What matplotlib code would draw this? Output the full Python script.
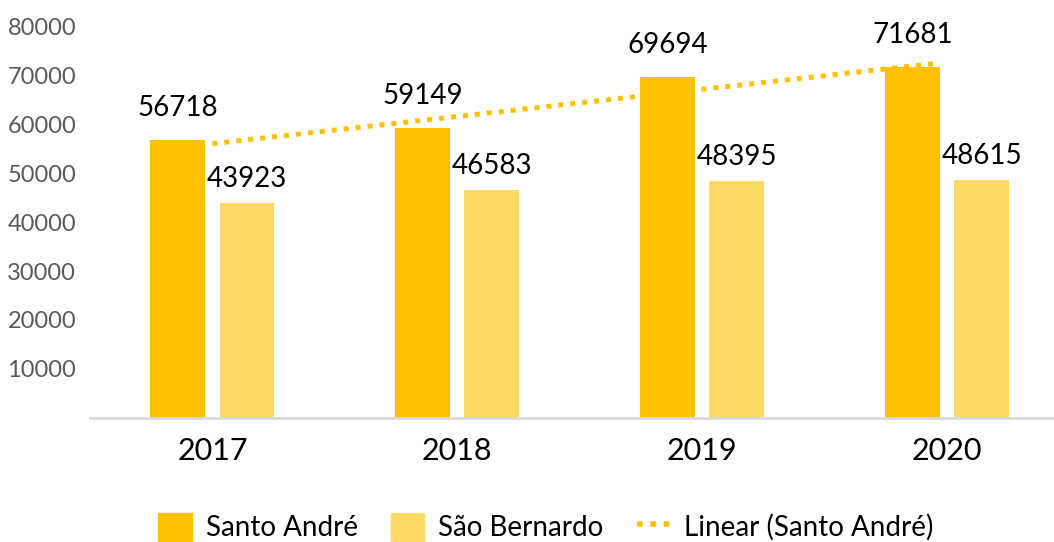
import numpy as np
import matplotlib.pyplot as plt
from matplotlib.patches import Patch
from matplotlib.lines import Line2D

anos = ["2017", "2018", "2019", "2020"]
santo_andre = [56718, 59149, 69694, 71681]
sao_bernardo = [43923, 46583, 48395, 48615]

cor_sa = "#FFC000"
cor_sb = "#FFD966"

plt.rcParams['font.family'] = ['Lato', 'DejaVu Sans']

fig = plt.figure(figsize=(10.54, 5.42), dpi=100)
ax = fig.add_axes([0.0854, 0.2288, 0.9146, 0.7232])

x = np.arange(len(anos))
largura = 0.224
desloc = 0.141

ax.bar(x - desloc, santo_andre, width=largura, color=cor_sa)
ax.bar(x + desloc, sao_bernardo, width=largura, color=cor_sb)

# rotulos de dados
for xi, v in zip(x - desloc, santo_andre):
    ax.annotate(str(v), (xi, v), xytext=(0, 23), textcoords='offset points',
                ha='center', va='center', fontsize=20, color='black')
for xi, v in zip(x + desloc, sao_bernardo):
    ax.annotate(str(v), (xi, v), xytext=(0, 17), textcoords='offset points',
                ha='center', va='center', fontsize=20, color='black')

# linha de tendencia linear (Santo André)
coef = np.polyfit(x + 1, santo_andre, 1)
xt = np.linspace(0, 2.97, 50)
ax.plot(xt, np.polyval(coef, xt + 1), color=cor_sa, linewidth=3.6,
        linestyle=(0, (1, 1.4)), zorder=3)

ax.set_xlim(-0.5, 3.437)
ax.set_ylim(0, 80000)
ax.set_yticks(np.arange(10000, 80001, 10000))
ax.tick_params(axis='y', length=0, labelsize=17, labelcolor='#595959', pad=10)
ax.set_xticks(x)
ax.set_xticklabels(anos)
ax.tick_params(axis='x', length=0, labelsize=22, pad=14)

for s in ['top', 'right', 'left']:
    ax.spines[s].set_visible(False)
ax.spines['bottom'].set_color('#d9d9d9')
ax.spines['bottom'].set_linewidth(2)

handles = [Patch(color=cor_sa), Patch(color=cor_sb),
           Line2D([0], [0], color=cor_sa, linewidth=4, linestyle=(0, (1, 1.4)))]
labels = ["Santo André", "São Bernardo", "Linear (Santo André)"]
fig.legend(handles, labels, loc='center', bbox_to_anchor=(0.518, 0.028), ncol=3,
           frameon=False, fontsize=20, handlelength=1.2, handleheight=1.2,
           handletextpad=0.5, columnspacing=1.2)

fig.savefig("out.png", dpi=100)
